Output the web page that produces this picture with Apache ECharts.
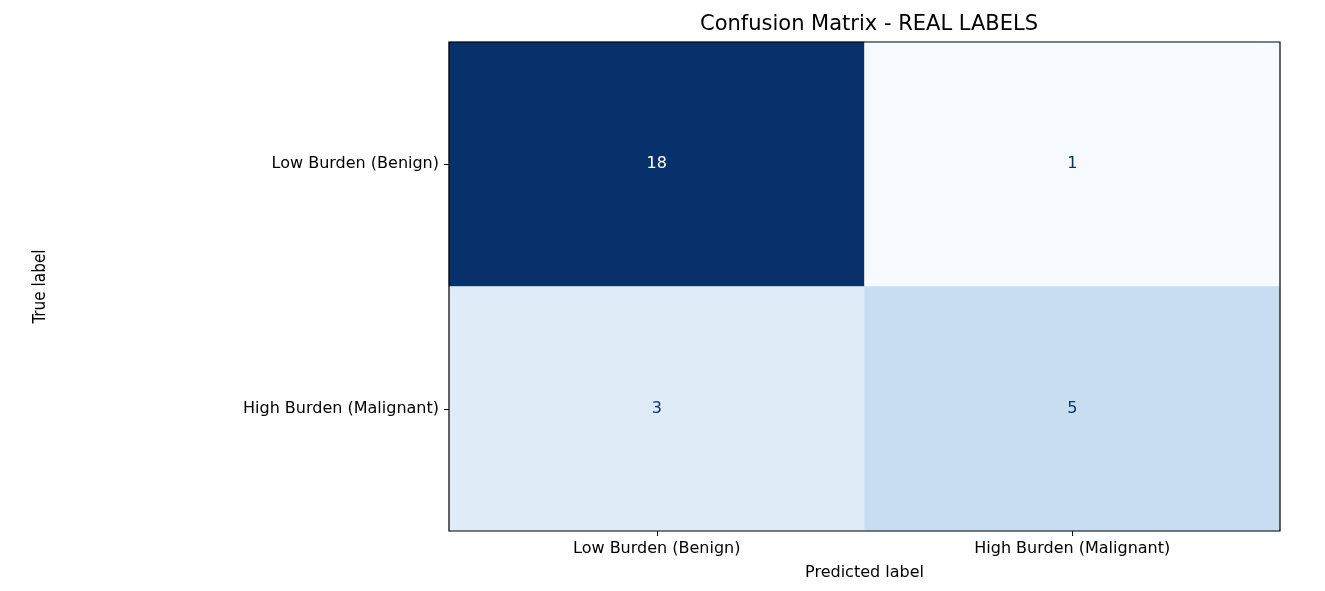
<!DOCTYPE html>
<html><head><meta charset="utf-8">
<script src="https://cdn.jsdelivr.net/npm/echarts@6/dist/echarts.min.js"></script>
<style>html,body{margin:0;padding:0;background:#fff}#c{width:1325px;height:591px}</style>
</head><body><div id="c"></div>
<script>
const predictedLabels = ['Low Burden (Benign)', 'High Burden (Malignant)'];
const trueLabels = ['Low Burden (Benign)', 'High Burden (Malignant)'];
// [predictedIndex, trueIndex, count]
const counts = [[0,0,18],[1,0,1],[0,1,3],[1,1,5]];
const titleText = 'Confusion Matrix - REAL LABELS';
const xName = 'Predicted label';
const yName = 'True label';

const font = 'DejaVu Sans';
const chart = echarts.init(document.getElementById('c'));
chart.setOption({
  backgroundColor:'#fff',
  animation:false,
  title:{text:titleText,left:864,top:9,textAlign:'center',textStyle:{fontFamily:font,fontSize:21,fontWeight:'normal',color:'#000'}},
  grid:{left:449,top:42,width:831,height:489,show:true,borderColor:'#000',borderWidth:1.2,backgroundColor:'transparent',z:10},
  xAxis:{type:'category',data:predictedLabels,position:'bottom',
    axisLine:{show:false},axisTick:{show:true,alignWithLabel:true,length:5,lineStyle:{color:'#000'}},
    axisLabel:{fontFamily:font,fontSize:16,color:'#000',margin:10},splitArea:{show:false},
    name:xName,nameLocation:'middle',nameGap:34,nameTextStyle:{fontFamily:font,fontSize:16,color:'#000'}},
  yAxis:{type:'category',data:trueLabels,inverse:true,
    axisLine:{show:false},axisTick:{show:true,alignWithLabel:true,length:5,lineStyle:{color:'#000'}},
    axisLabel:{fontFamily:font,fontSize:16,color:'#000',margin:10},
    name:yName,nameLocation:'middle',nameGap:400,nameRotate:90,
    nameTextStyle:{fontFamily:'DejaVu Sans Condensed',fontSize:17,color:'#000'}},
  visualMap:{show:false,min:1,max:18,dimension:2,
    inRange:{color:['#f7fbff','#deebf7','#c6dbef','#9ecae1','#6baed6','#4292c6','#2171b5','#08519c','#08306b']}},
  series:[{type:'heatmap',data:counts,
    label:{show:true,fontFamily:font,fontSize:16,
      formatter:p=>p.value[2],
      color:'#08306b'},
    itemStyle:{borderWidth:0}}]
});
// white text on dark cells
chart.setOption({series:[{data:counts.map(d=>({value:d,label:{color:d[2]>9?'#fff':'#08306b'}}))}]});
</script></body></html>
